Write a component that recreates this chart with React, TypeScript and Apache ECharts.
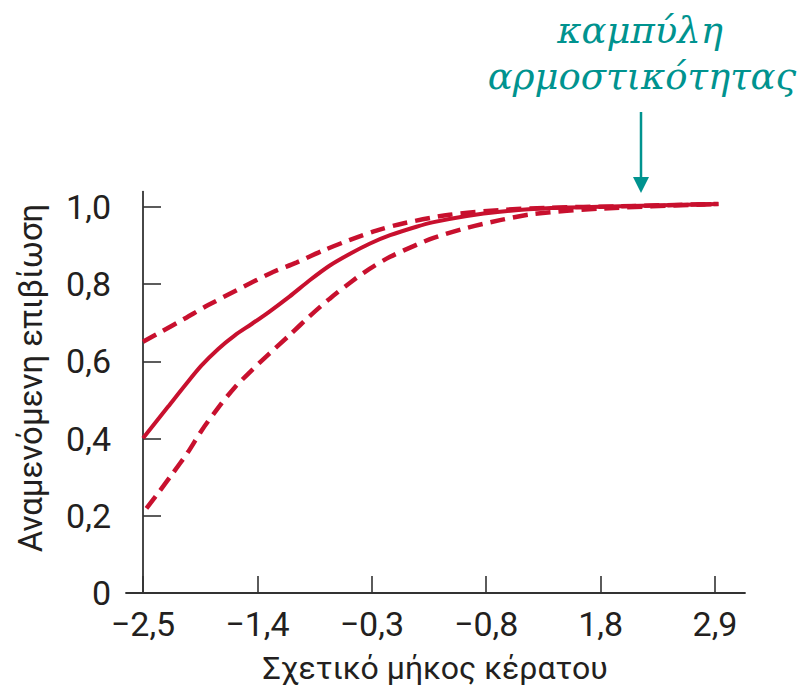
import React, { useEffect, useRef } from "react";
import * as echarts from "echarts";

// Horn length categories along the x axis (tick positions 0..5)
const xTickLabels = ["\u22122,5", "\u22121,4", "\u22120,3", "\u22120,8", "1,8", "2,9"];
const xTickPositions = [0, 1, 2, 3, 4, 5];

const yTickValues = [0, 0.2, 0.4, 0.6, 0.8, 1.0];
const yTickLabels = ["0", "0,2", "0,4", "0,6", "0,8", "1,0"];

// Fitness curve (expected survival) as [x position, value]
const fitCurve: [number, number][] = [
  [0.0, 0.401], [0.22, 0.483], [0.37, 0.539], [0.51, 0.589], [0.66, 0.633],
  [0.8, 0.667], [0.95, 0.697], [1.1, 0.728], [1.28, 0.768], [1.46, 0.811],
  [1.63, 0.848], [1.81, 0.879], [1.98, 0.905], [2.16, 0.927], [2.39, 0.949],
  [2.54, 0.961], [2.83, 0.977], [3.12, 0.988], [3.53, 0.997], [4.17, 1.002],
  [5.03, 1.008],
];

// Upper confidence band
const upperBand: [number, number][] = [
  [0.0, 0.651], [0.16, 0.677], [0.37, 0.712], [0.57, 0.746], [1.11, 0.828],
  [1.34, 0.856], [1.58, 0.888], [1.81, 0.915], [2.04, 0.939], [2.28, 0.958],
  [2.68, 0.98], [3.12, 0.992], [3.53, 0.998], [4.17, 1.002], [5.03, 1.008],
];

// Lower confidence band
const lowerBand: [number, number][] = [
  [0.03, 0.219], [0.13, 0.258], [0.25, 0.306], [0.4, 0.368], [0.51, 0.42],
  [0.66, 0.481], [0.8, 0.532], [0.95, 0.577], [1.1, 0.619], [1.28, 0.668],
  [1.46, 0.718], [1.63, 0.762], [1.81, 0.804], [1.98, 0.84], [2.16, 0.871],
  [2.39, 0.902], [2.54, 0.92], [2.83, 0.946], [3.12, 0.966], [3.41, 0.982],
  [4.0, 0.996], [5.03, 1.008],
];

const RED = "#c8102e";
const TEAL = "#00938f";
const AXIS = "#333333";
const INK = "#231f20";
const SANS = "Roboto, 'Open Sans', sans-serif";
const SERIF = "'DejaVu Serif', 'Liberation Serif', serif";

export default function App() {
  const ref = useRef<HTMLDivElement>(null);

  useEffect(() => {
    if (!ref.current) return;
    const chart = echarts.init(ref.current, null, { renderer: "svg" });

    chart.setOption({
      animation: false,
      backgroundColor: "#ffffff",
      grid: { left: 126, right: 66, top: 191.6, bottom: 97 },
      xAxis: {
        type: "value",
        min: -0.1486,
        max: 5.262,
        splitLine: { show: false },
        axisLine: { lineStyle: { color: AXIS, width: 1.8 } },
        axisTick: {
          inside: true,
          length: 17,
          customValues: xTickPositions,
          lineStyle: { color: AXIS, width: 1.6 },
        },
        axisLabel: {
          customValues: xTickPositions,
          formatter: (v: number) => xTickLabels[Math.round(v)] ?? "",
          color: INK,
          fontFamily: SANS,
          fontSize: 34,
          margin: 14,
        },
      },
      yAxis: {
        type: "value",
        min: 0,
        max: 1.04,
        splitLine: { show: false },
        axisLine: { show: true, lineStyle: { color: AXIS, width: 1.8 } },
        axisTick: {
          show: true,
          inside: true,
          length: 18,
          customValues: yTickValues,
          lineStyle: { color: AXIS, width: 1.6 },
        },
        axisLabel: {
          customValues: yTickValues,
          formatter: (v: number) => {
            const idx = yTickValues.findIndex((t) => Math.abs(t - v) < 1e-6);
            return idx >= 0 ? yTickLabels[idx] : "";
          },
          color: INK,
          fontFamily: SANS,
          fontSize: 34,
          margin: 15,
        },
      },
      series: [
        {
          type: "line",
          data: upperBand,
          smooth: 0.3,
          showSymbol: false,
          lineStyle: { color: RED, width: 4.5, type: [15, 8] },
        },
        {
          type: "line",
          data: lowerBand,
          smooth: 0.3,
          showSymbol: false,
          lineStyle: { color: RED, width: 4.5, type: [15, 8] },
        },
        {
          type: "line",
          data: fitCurve,
          smooth: 0.3,
          showSymbol: false,
          lineStyle: { color: RED, width: 4 },
        },
      ],
      graphic: [
        {
          type: "text",
          x: 30,
          y: 378,
          rotation: Math.PI / 2,
          style: {
            text: "Αναμενόμενη επιβίωση",
            fill: INK,
            font: `33px ${SANS}`,
            align: "center",
            verticalAlign: "middle",
          },
        },
        {
          type: "text",
          x: 435,
          y: 668,
          style: {
            text: "Σχετικό μήκος κέρατου",
            fill: INK,
            font: `32px ${SANS}`,
            align: "center",
            verticalAlign: "middle",
          },
        },
        {
          type: "text",
          x: 640,
          y: 30,
          style: {
            text: "καμπύλη",
            fill: TEAL,
            font: `italic 37px ${SERIF}`,
            align: "center",
            verticalAlign: "middle",
          },
        },
        {
          type: "text",
          x: 642,
          y: 76,
          style: {
            text: "αρμοστικότητας",
            fill: TEAL,
            font: `italic 37px ${SERIF}`,
            align: "center",
            verticalAlign: "middle",
          },
        },
        {
          type: "line",
          shape: { x1: 641, y1: 112, x2: 641, y2: 180 },
          style: { stroke: TEAL, lineWidth: 2.5 },
        },
        {
          type: "polygon",
          shape: { points: [[633, 177], [649, 177], [641, 193]] },
          style: { fill: TEAL },
        },
      ],
    });

    return () => chart.dispose();
  }, []);

  return (
    <div
      ref={ref}
      style={{ position: "fixed", left: 0, top: 0, width: 811, height: 690 }}
    />
  );
}
